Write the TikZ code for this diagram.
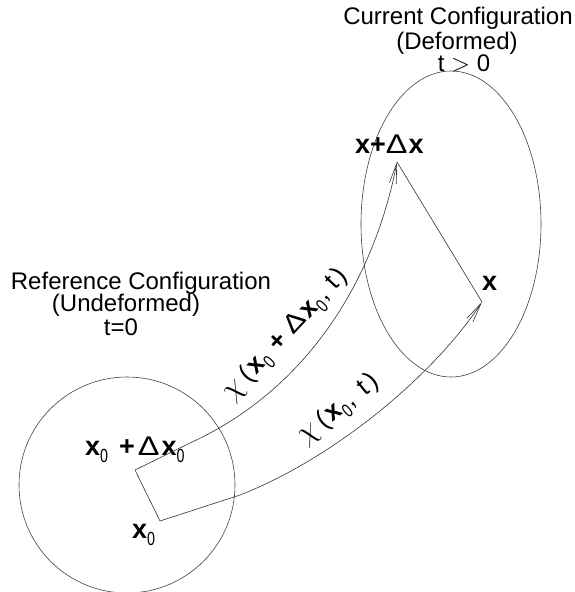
\documentclass[tikz,border=0pt]{standalone}
\usepackage{fontspec}
\setmainfont{Liberation Sans}
\usetikzlibrary{arrows.meta}
\newcommand{\zsub}[1]{\raisebox{-0.5ex}{\mdseries\fontsize{19}{19}\selectfont\scalebox{0.75}[1]{#1}}}
\newcommand{\bx}{\textbf{x}}
\newcommand{\bigchi}{\scalebox{1.25}{$\chi$}}
\newcommand{\wdelta}{{\mdseries\scalebox{1.2}[1]{Δ}}}
\begin{document}
\begin{tikzpicture}[x=1pt,y=-1pt,
  shape line/.style={draw=black!75,line width=0.6pt},
  conn/.style={draw=black!80,line width=0.6pt},
  arr/.style={conn,-{Straight Barb[length=20pt,width=7pt,line width=0.6pt]}},
  title/.style={font=\fontsize{24}{24}\selectfont,inner sep=0pt},
  pt/.style={font=\fontsize{27}{27}\selectfont\bfseries,inner sep=0pt,anchor=base west},
  clab/.style={font=\fontsize{26}{26}\selectfont,inner sep=0pt,anchor=base west}]
\useasboundingbox (0,0) rectangle (574,592);
% regions
\draw[shape line] (127,485) circle (108);
\draw[shape line] (451,224) ellipse (90 and 153);
% titles
\node[title] (r1) at (141,283) {Reference Configuration};
\node[title] (r2) at (126,305) {(Undeformed)};
\node[title] (r3) at (121,327) {t=0};
\node[title] (c1) at (458,18) {Current Configuration};
\node[title] (c2) at (457,43) {(Deformed)};
\node[title] (c3) at (464,63) {t $>$ 0};
% points
\coordinate (p1) at (135,470);
\coordinate (p0) at (160,521);
\coordinate (q1) at (397,162);
\coordinate (q0) at (482,302);
\coordinate (m1) at (190,443);
\coordinate (m0) at (240,495);
\node[pt] (lp1) at (85,455) {x\zsub{0}\hspace{11pt}+\hspace{3pt}\wdelta\hspace{2pt}x\zsub{0}};
\node[pt] (lp0) at (132,538) {x\zsub{0}};
\node[pt] (lq1) at (355,153) {x+\wdelta\hspace{1pt}x};
\node[pt] (lq0) at (482,290) {x};
% connectors
\draw[conn] (p1) -- (p0);
\draw[conn] (q1) -- (q0);
\draw[arr] (p1) -- (m1) .. controls (300,393) and (372,290) .. (q1);
\draw[arr] (p0) -- (m0) .. controls (330,460) and (430,380) .. (q0);
% curve labels
\node[clab,rotate=47] (l1) at (232,402) {\bigchi\hspace{6pt}(\hspace{2pt}\bx\zsub{0}\hspace{10pt}\textbf{+}\hspace{7pt}\wdelta\hspace{2pt}\bx\zsub{0}\hspace{2pt},\hspace{7pt}t\hspace{3pt})};
\node[clab,rotate=39] (l0) at (305,445) {\bigchi\hspace{6pt}(\hspace{2pt}\bx\zsub{0}\hspace{2pt},\hspace{10pt}t\hspace{3pt})};
\end{tikzpicture}
\end{document}
